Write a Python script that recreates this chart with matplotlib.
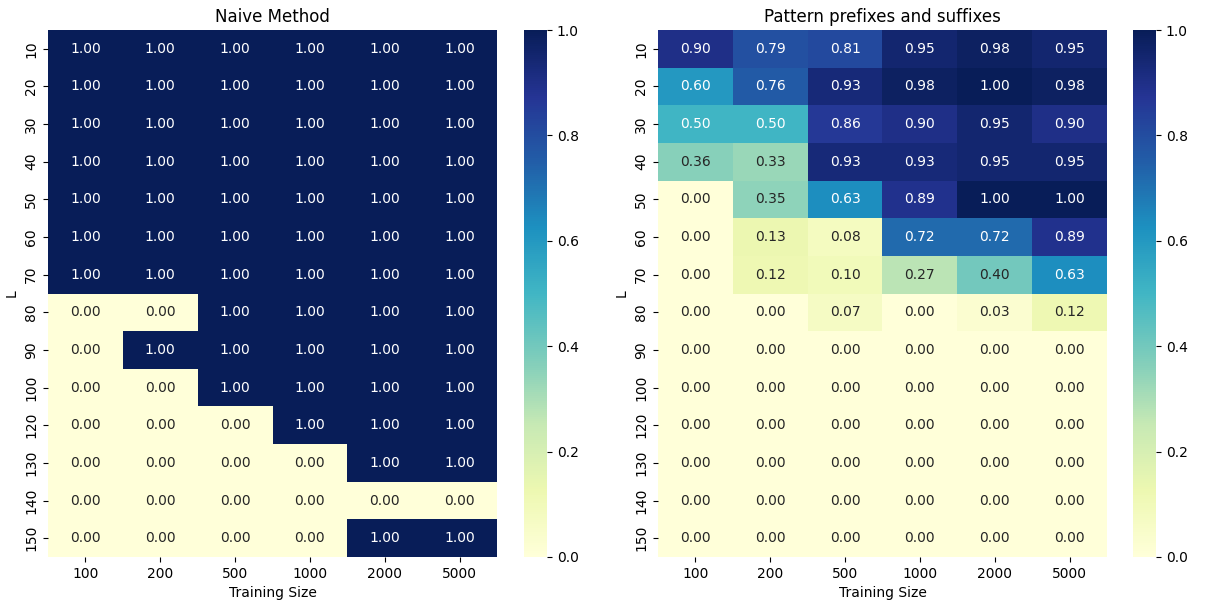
import numpy as np
import matplotlib
matplotlib.use("Agg")
import matplotlib.pyplot as plt
import seaborn as sns

L_VALUES = [10, 20, 30, 40, 50, 60, 70, 80, 90, 100, 120, 130, 140, 150]
TRAINING_SIZES = [100, 200, 500, 1000, 2000, 5000]

naive = [
    [1, 1, 1, 1, 1, 1],
    [1, 1, 1, 1, 1, 1],
    [1, 1, 1, 1, 1, 1],
    [1, 1, 1, 1, 1, 1],
    [1, 1, 1, 1, 1, 1],
    [1, 1, 1, 1, 1, 1],
    [1, 1, 1, 1, 1, 1],
    [0, 0, 1, 1, 1, 1],
    [0, 1, 1, 1, 1, 1],
    [0, 0, 1, 1, 1, 1],
    [0, 0, 0, 1, 1, 1],
    [0, 0, 0, 0, 1, 1],
    [0, 0, 0, 0, 0, 0],
    [0, 0, 0, 0, 1, 1],
]

pattern = [
    [0.90, 0.79, 0.81, 0.95, 0.98, 0.95],
    [0.60, 0.76, 0.93, 0.98, 1.00, 0.98],
    [0.50, 0.50, 0.86, 0.90, 0.95, 0.90],
    [0.36, 0.33, 0.93, 0.93, 0.95, 0.95],
    [0.00, 0.35, 0.63, 0.89, 1.00, 1.00],
    [0.00, 0.13, 0.08, 0.72, 0.72, 0.89],
    [0.00, 0.12, 0.10, 0.27, 0.40, 0.63],
    [0.00, 0.00, 0.07, 0.00, 0.03, 0.12],
    [0.00, 0.00, 0.00, 0.00, 0.00, 0.00],
    [0.00, 0.00, 0.00, 0.00, 0.00, 0.00],
    [0.00, 0.00, 0.00, 0.00, 0.00, 0.00],
    [0.00, 0.00, 0.00, 0.00, 0.00, 0.00],
    [0.00, 0.00, 0.00, 0.00, 0.00, 0.00],
    [0.00, 0.00, 0.00, 0.00, 0.00, 0.00],
]

W, H = 1205, 606
fig = plt.figure(figsize=(W / 100, H / 100), dpi=100)

bottom = 1 - 557 / H
height = 527 / H
panels = [
    (naive, "Naive Method", 48, 524),
    (pattern, "Pattern prefixes and suffixes", 658, 1133),
]

for data, title, ax_x, cb_x in panels:
    ax = fig.add_axes([ax_x / W, bottom, 449 / W, height])
    cax = fig.add_axes([cb_x / W, bottom, 23 / W, height])
    sns.heatmap(np.array(data, dtype=float), ax=ax, cbar_ax=cax, cmap="YlGnBu",
                vmin=0, vmax=1, annot=True, fmt=".2f",
                xticklabels=TRAINING_SIZES, yticklabels=L_VALUES,
                annot_kws={"size": 10})
    ax.set_title(title, fontsize=12)
    ax.set_xlabel("Training Size", fontsize=10)
    ax.set_ylabel("L", fontsize=10)
    ax.tick_params(axis="x", labelsize=10, rotation=0)
    ax.tick_params(axis="y", labelsize=10, rotation=90)
    cax.tick_params(labelsize=10)

fig.savefig("out.png", dpi=100)
